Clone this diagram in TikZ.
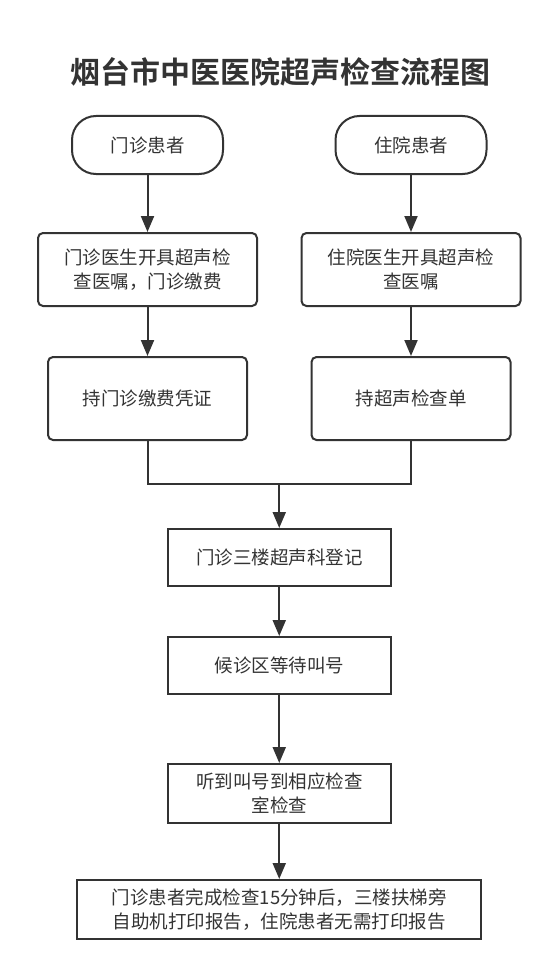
\documentclass[tikz,border=0pt]{standalone}
\usepackage{fontspec}
\setmainfont{Noto Sans CJK SC}[BoldFont={Noto Sans CJK SC Bold}]
\usepackage{xcolor}
\usetikzlibrary{shapes,arrows.meta,positioning,calc}
\definecolor{ink}{HTML}{333333}

\begin{document}
\begin{tikzpicture}[
    x=1pt, y=1pt,
    node distance=49pt,
    txt/.style={font=\fontsize{18.5}{23.5}\selectfont, text=ink, align=center, inner sep=0pt},
    term/.style={txt, rectangle, draw=ink, line width=2pt, rounded corners=24pt, minimum width=151pt, minimum height=58pt},
    box/.style={txt, rectangle, draw=ink, line width=2pt, rounded corners=5pt, minimum width=219pt, minimum height=73pt},
    tall/.style={box, minimum width=199pt, minimum height=83pt},
    plainbox/.style={txt, rectangle, draw=ink, line width=2pt, minimum width=223pt, minimum height=57pt},
    arrow/.style={-{Triangle[length=16pt,width=13pt]}, line width=2pt, draw=ink},
    link/.style={line width=2pt, draw=ink}
]
    \useasboundingbox (0,0) rectangle (558,-963);

    \node [font=\fontsize{30}{36}\selectfont\bfseries, text=ink] (title) at (280,-72) {烟台市中医医院超声检查流程图};

    % two starting points
    \node [term] (out1) at (147.5,-145) {门诊患者};
    \node [term] (in1) at (411,-145) {住院患者};

    \node [box, below=57pt of out1] (out2) {门诊医生开具超声检\\查医嘱，门诊缴费};
    \node [box, below=57pt of in1] (in2) {住院医生开具超声检\\查医嘱};

    \node [tall, below=of out2] (out3) {持门诊缴费凭证};
    \node [tall, below=of in2] (in3) {持超声检查单};

    % common steps
    \coordinate (mid) at ($(out3.south)!0.5!(in3.south)$);
    \coordinate (merge) at ([yshift=-43pt]mid);
    \node [plainbox, below=87pt of mid] (reg) {门诊三楼超声科登记};
    \node [plainbox, below=of reg] (wait) {候诊区等待叫号};
    \node [plainbox, below=68pt of wait, minimum height=59pt] (exam) {听到叫号到相应检查\\室检查};
    \node [plainbox, below=55pt of exam, minimum width=404pt, minimum height=59pt] (report) {门诊患者完成检查15分钟后，三楼扶梯旁\\自助机打印报告，住院患者无需打印报告};

    \draw [arrow] (out1) -- (out2);
    \draw [arrow] (in1) -- (in2);
    \draw [arrow] (out2) -- (out3);
    \draw [arrow] (in2) -- (in3);
    \draw [link] (out3) |- (merge) -| (in3);
    \draw [arrow] (merge) -- (reg);
    \draw [arrow] (reg) -- (wait);
    \draw [arrow] (wait) -- (exam);
    \draw [arrow] (exam) -- (report);
\end{tikzpicture}
\end{document}
